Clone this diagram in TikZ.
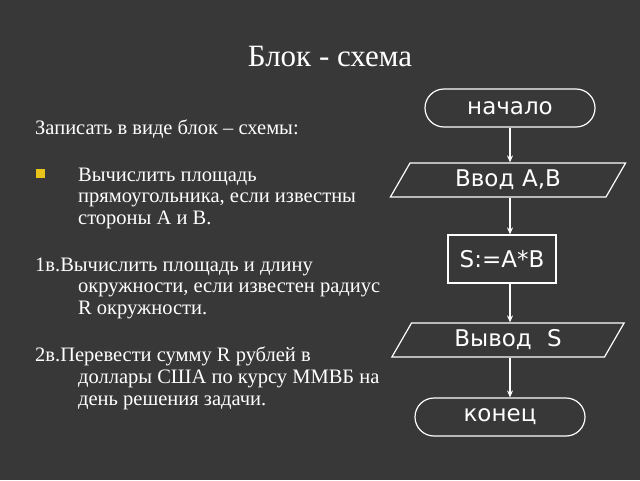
\documentclass[tikz,border=0pt]{standalone}
\usepackage{fontspec}
\setmainfont{Liberation Serif}
\newfontfamily\flowfont{DejaVu Sans}
\usetikzlibrary{shapes.geometric,arrows.meta}
\definecolor{bg}{HTML}{383838}
\definecolor{bul}{HTML}{E8C41A}
\begin{document}
\begin{tikzpicture}[x=1pt,y=-1pt,
  txt/.style={anchor=base west,text=white,font=\fontsize{20.5}{24}\selectfont,inner sep=0},
  term/.style={draw=white,line width=1.2pt,rounded corners=19pt,minimum width=170pt,minimum height=38pt,text=white,font=\flowfont\fontsize{23}{26}\selectfont},
  para/.style={draw=white,line width=1.2pt,trapezium,trapezium left angle=60,trapezium right angle=120,minimum height=34pt,inner ysep=0pt,inner xsep=0pt,text width=115pt,align=center,text=white,font=\flowfont\fontsize{23}{26}\selectfont},
  proc/.style={draw=white,line width=1.2pt,minimum width=108pt,minimum height=48pt,text=white,font=\flowfont\fontsize{23}{26}\selectfont},
  arr/.style={draw=white,line width=1.2pt,-{Stealth[length=7pt,width=6pt]}}]
\fill[bg] (0,0) rectangle (640,480);
\useasboundingbox (0,0) rectangle (640,480);
\node[text=white,font=\fontsize{31}{35}\selectfont] (title) at (330,56) {Блок - схема};
\node[txt] (l1) at (35,134) {Записать в виде блок – схемы:};
\fill[bul] (36,169) rectangle (45,178);
\node[txt] (l2) at (78,181) {Вычислить площадь};
\node[txt] (l3) at (78,202) {прямоугольника, если известны};
\node[txt] (l4) at (78,224) {стороны А и В.};
\node[txt] (l5) at (35,271) {1в.Вычислить площадь и длину};
\node[txt] (l6) at (78,292) {окружности, если известен радиус};
\node[txt] (l7) at (78,314) {R окружности.};
\node[txt] (l8) at (35,361) {2в.Перевести сумму R рублей в};
\node[txt] (l9) at (78,383) {доллары США по курсу ММВБ на};
\node[txt] (l10) at (78,405) {день решения задачи.};
\node[term] (start) at (510,108) {начало};
\node[para] (in) at (508,180) {Ввод А,В};
\node[proc] (calc) at (502,259) {S:=A*B};
\node[para] (out) at (508,340) {Вывод \ S};
\node[term] (end) at (500,417) {конец};
\draw[arr] (start.south -| 510,0) -- (in.north -| 510,0);
\draw[arr] (in.south -| 510,0) -- (calc.north -| 510,0);
\draw[arr] (calc.south -| 510,0) -- (out.north -| 510,0);
\draw[arr] (out.south -| 510,0) -- (end.north -| 510,0);
\end{tikzpicture}
\end{document}
